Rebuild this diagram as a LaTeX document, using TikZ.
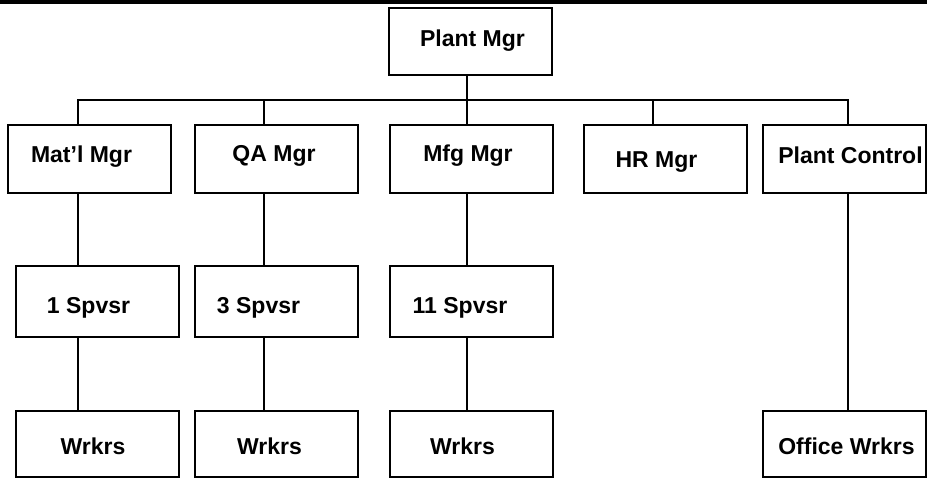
\documentclass[tikz,border=0pt]{standalone}
\usepackage{fontspec}
\setmainfont{Liberation Sans}

\tikzset{
  unit/.style = {draw, line width = 2pt, minimum width = 163pt, inner sep = 0pt},
  lbl/.style  = {font = \bfseries\fontsize{23}{27}\selectfont, inner sep = 0pt,
                 text height = 16.5pt, text depth = 0pt},
  link/.style = {line width = 1.7pt}
}

\begin{document}
\begin{tikzpicture}[x = 1pt, y = -1pt]

    \useasboundingbox (0, 0) rectangle (927, 479);
    \fill [black] (0, 0) rectangle (927, 4);

    % top
    \node [unit, minimum height = 67pt, label = {[lbl, shift = {(2, -3.5)}]center:Plant Mgr}] (plant) at (470.5, 41.5) {};

    % managers
    \foreach \n/\x/\t/\dx/\dy in {matl/89.5/Mat’l Mgr/-8/-5, qa/276.5/QA Mgr/-2.5/-6, mfg/471/Mfg Mgr/-3/-6,
                                  hr/665/HR Mgr/-8.5/0, ctrl/844.5/Plant Control/6/-4} {
        \node [unit, minimum height = 68pt, label = {[lbl, shift = {(\dx, \dy)}]center:\t}] (\n) at (\x, 159) {};
    }

    % supervisors
    \foreach \n/\x/\t/\dx/\dy in {sp1/97.5/1 Spvsr/-9/3.5, sp3/276.5/3 Spvsr/-18/3.5, sp11/471/11 Spvsr/-11/3.5} {
        \node [unit, minimum height = 71pt, label = {[lbl, shift = {(\dx, \dy)}]center:\t}] (\n) at (\x, 301.5) {};
    }

    % workers
    \foreach \n/\x/\t/\dx/\dy in {w1/97.5/Wrkrs/-4.5/2, w2/276.5/Wrkrs/-7/2, w3/471/Wrkrs/-8.5/2,
                                  ow/844.5/Office Wrkrs/2/2} {
        \node [unit, minimum height = 66pt, label = {[lbl, shift = {(\dx, \dy)}]center:\t}] (\n) at (\x, 444) {};
    }

    % bus
    \coordinate (b1) at (78, 100);
    \coordinate (b2) at (264, 100);
    \coordinate (b3) at (467, 100);
    \coordinate (b4) at (653, 100);
    \coordinate (b5) at (848, 100);

    \draw [link] (b1 |- matl.north) -- (b1) -- (b5) -- (b5 |- ctrl.north);
    \draw [link] (b3 |- plant.south) -- (b3 |- mfg.north);
    \draw [link] (b2) -- (b2 |- qa.north);
    \draw [link] (b4) -- (b4 |- hr.north);

    \draw [link] (b1 |- matl.south) -- (b1 |- sp1.north);
    \draw [link] (b2 |- qa.south) -- (b2 |- sp3.north);
    \draw [link] (b3 |- mfg.south) -- (b3 |- sp11.north);
    \draw [link] (b5 |- ctrl.south) -- (b5 |- ow.north);

    \draw [link] (b1 |- sp1.south) -- (b1 |- w1.north);
    \draw [link] (b2 |- sp3.south) -- (b2 |- w2.north);
    \draw [link] (b3 |- sp11.south) -- (b3 |- w3.north);

\end{tikzpicture}
\end{document}
